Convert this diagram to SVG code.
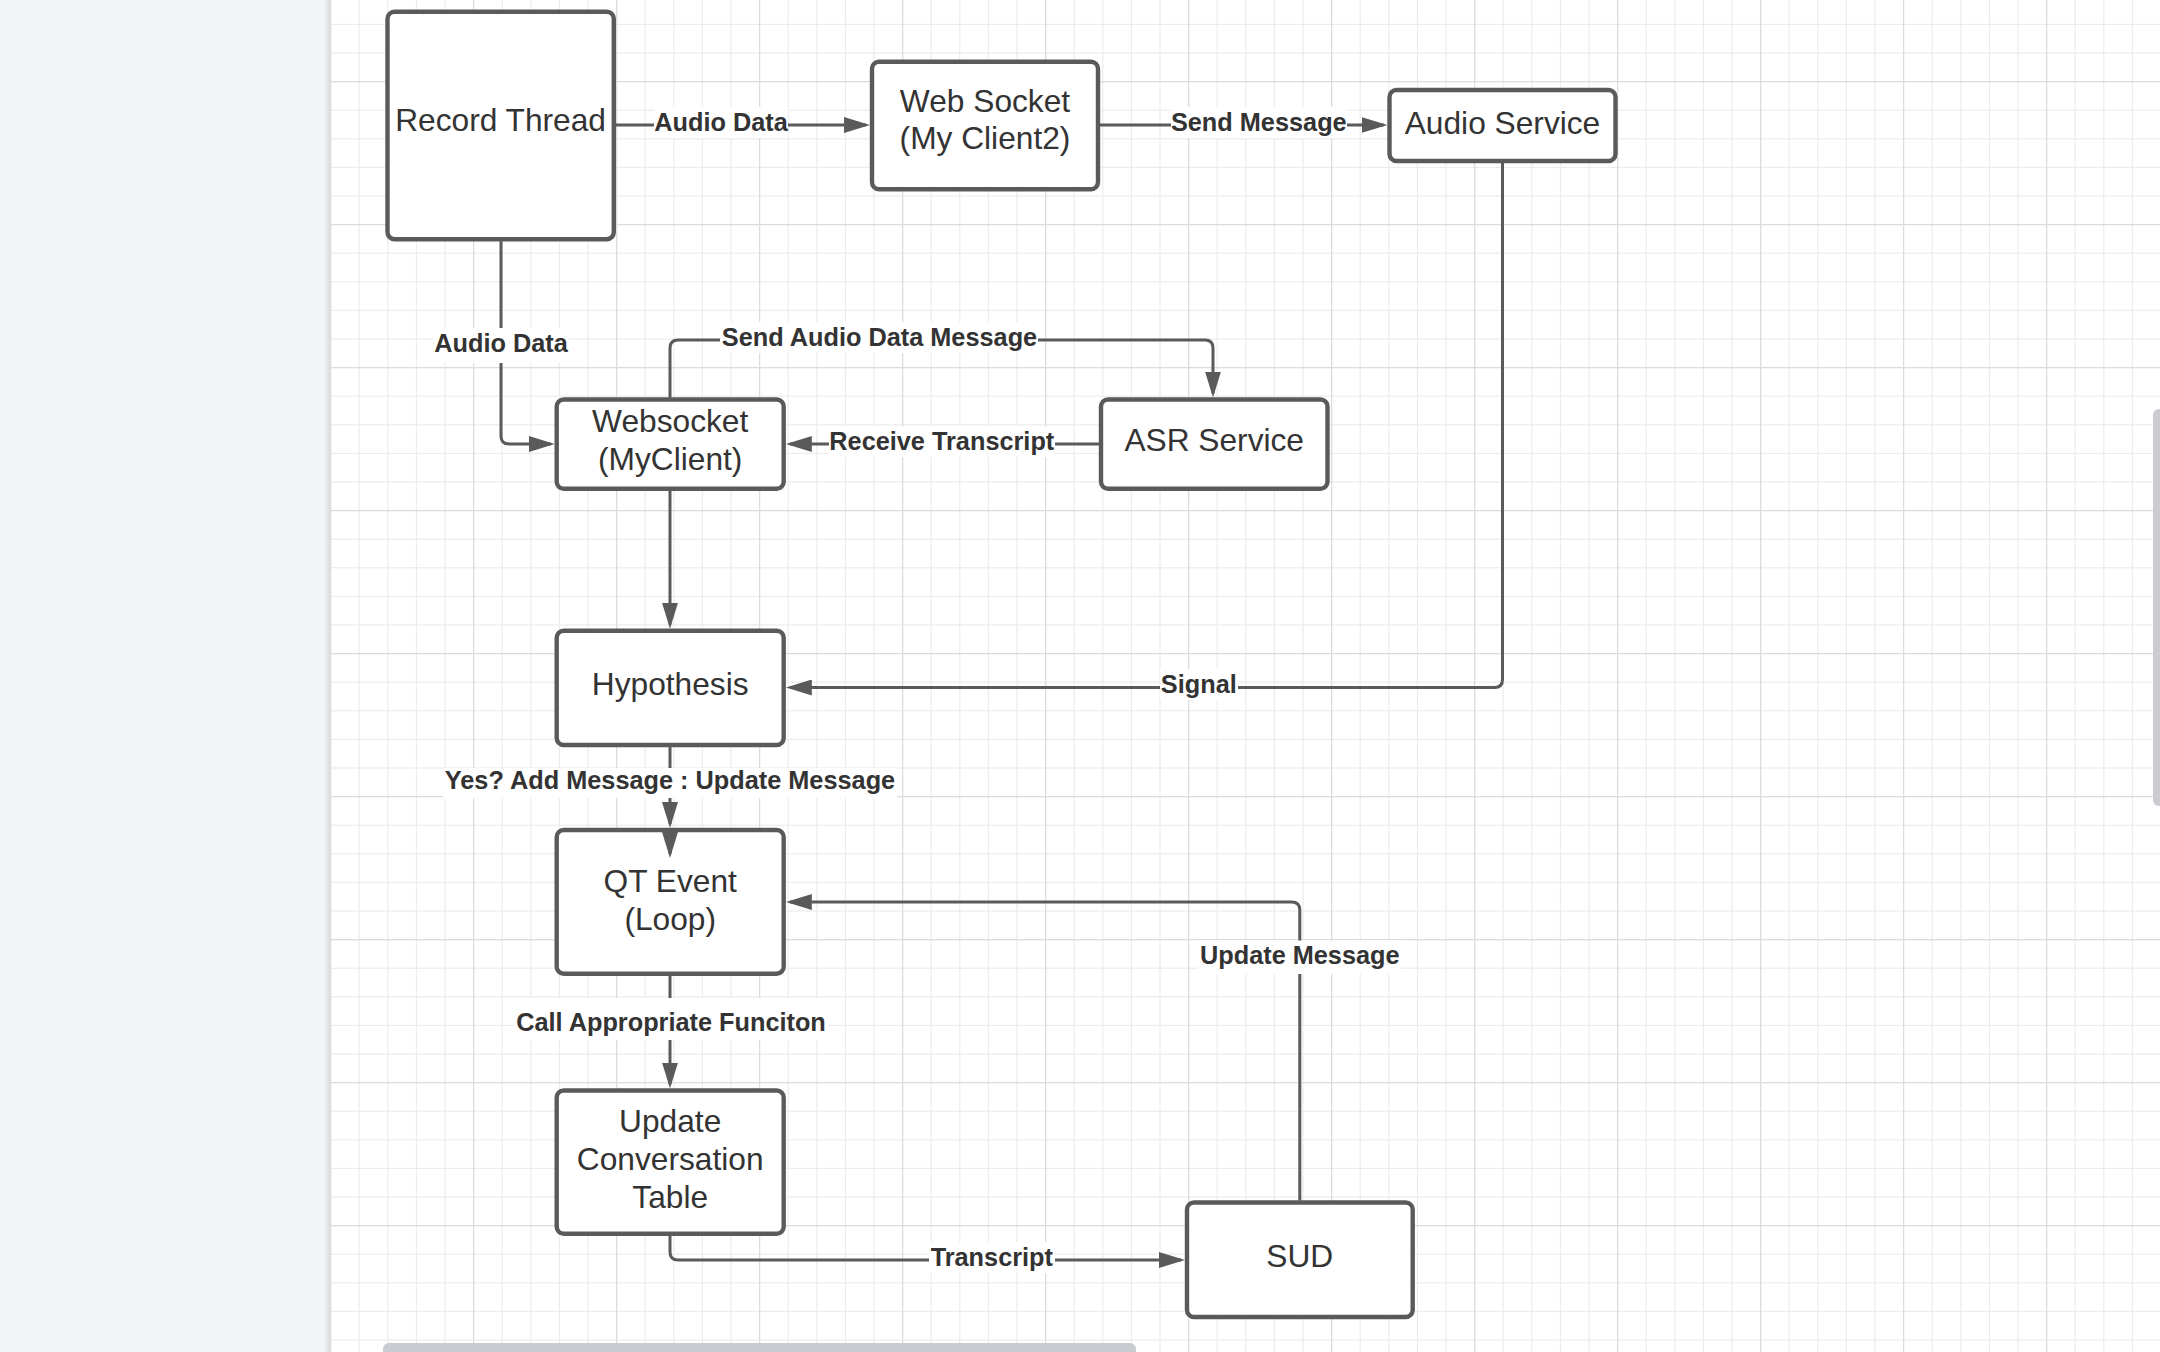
<svg xmlns="http://www.w3.org/2000/svg" width="2160" height="1352" viewBox="0 0 2160 1352">
  <defs>
    <!-- canvas grid: major cell 143px split into 5 minor cells -->
    <pattern id="grid" x="330" y="81" width="143" height="143" patternUnits="userSpaceOnUse">
      <g fill="#ececec">
        <rect x="28.6" y="0" width="1.2" height="143"/>
        <rect x="57.2" y="0" width="1.2" height="143"/>
        <rect x="85.8" y="0" width="1.2" height="143"/>
        <rect x="114.4" y="0" width="1.2" height="143"/>
        <rect x="0" y="28.6" width="143" height="1.2"/>
        <rect x="0" y="57.2" width="143" height="1.2"/>
        <rect x="0" y="85.8" width="143" height="1.2"/>
        <rect x="0" y="114.4" width="143" height="1.2"/>
      </g>
      <g fill="#dcdcdc">
        <rect x="0" y="0" width="1.3" height="143"/>
        <rect x="0" y="0" width="143" height="1.3"/>
      </g>
    </pattern>
    <linearGradient id="panelEdge" x1="0" y1="0" x2="1" y2="0">
      <stop offset="0" stop-color="#f2f3f5"/>
      <stop offset="1" stop-color="#dadce0"/>
    </linearGradient>
    <marker id="arrow" markerUnits="userSpaceOnUse" markerWidth="26" markerHeight="16" refX="22" refY="8" orient="auto">
      <path d="M0,0 L26,8 L0,16 z" fill="#5a5a5a"/>
    </marker>
    <style>
      .node rect { fill: #ffffff; stroke: #5a5a5a; stroke-width: 4.4; }
      .node text { font-family: "Liberation Sans", Arial, sans-serif; font-size: 31.7px; fill: #333333; text-anchor: middle; }
      .edge { fill: none; stroke: #5a5a5a; stroke-width: 3; marker-end: url(#arrow); }
      .lbl-bg { fill: #ffffff; }
      .lbl { font-family: "Liberation Sans", Arial, sans-serif; font-size: 25.3px; font-weight: bold; fill: #333333; text-anchor: middle; }
    </style>
  </defs>

  <!-- canvas -->
  <rect x="0" y="0" width="2160" height="1352" fill="#ffffff"/>
  <rect x="330" y="0" width="1830" height="1352" fill="url(#grid)"/>

  <!-- side panel -->
  <rect x="0" y="0" width="330" height="1352" fill="#f2f3f5"/>
  <rect x="324" y="0" width="6" height="1352" fill="url(#panelEdge)"/>

  <!-- connectors -->
  <g id="connectors">
    <path class="edge" d="M615.8,125 H866"/>
    <path class="edge" d="M1100,125 H1383.5"/>
    <path class="edge" d="M501,241.2 V436 Q501,444 509,444 H550.7"/>
    <path class="edge" d="M670,397.5 V348 Q670,340 678,340 H1205 Q1213,340 1213,348 V393.5"/>
    <path class="edge" d="M1099,444 H789.8"/>
    <path class="edge" d="M670,490.8 V624.7"/>
    <path class="edge" d="M1502.5,163 V679.5 Q1502.5,687.5 1494.5,687.5 H789.8"/>
    <path class="edge" d="M670,746.7 V824"/>
    <path class="edge" d="M670,832 V854"/>
    <path class="edge" d="M670,975.7 V1084.5"/>
    <path class="edge" d="M670,1235.8 V1252 Q670,1260 678,1260 H1181"/>
    <path class="edge" d="M1299.8,1200.5 V910 Q1299.8,902 1291.8,902 H789.8"/>

    <!-- connector labels -->
    <rect class="lbl-bg" x="654" y="107" width="134" height="31"/>
    <text class="lbl" x="721" y="131">Audio Data</text>

    <rect class="lbl-bg" x="1171" y="107" width="176" height="31"/>
    <text class="lbl" x="1258.8" y="131">Send Message</text>

    <rect class="lbl-bg" x="433" y="328" width="136" height="35"/>
    <text class="lbl" x="501" y="352">Audio Data</text>

    <rect class="lbl-bg" x="720" y="322" width="318" height="31"/>
    <text class="lbl" x="879.5" y="346">Send Audio Data Message</text>

    <rect class="lbl-bg" x="829" y="426" width="226" height="31"/>
    <text class="lbl" x="941.8" y="450">Receive Transcript</text>

    <rect class="lbl-bg" x="1160" y="669" width="78" height="31"/>
    <text class="lbl" x="1198.8" y="693">Signal</text>

    <rect class="lbl-bg" x="443" y="768" width="454" height="30"/>
    <text class="lbl" x="670" y="789">Yes? Add Message : Update Message</text>

    <rect class="lbl-bg" x="514" y="998" width="314" height="42"/>
    <text class="lbl" x="671" y="1031">Call Appropriate Funciton</text>

    <rect class="lbl-bg" x="1198" y="940.5" width="203" height="33.5"/>
    <text class="lbl" x="1299.8" y="964">Update Message</text>

    <rect class="lbl-bg" x="929" y="1242" width="126" height="31"/>
    <text class="lbl" x="991.8" y="1266">Transcript</text>
  </g>

  <!-- nodes -->
  <g id="record-thread" class="node">
    <rect x="387.5" y="11.7" width="226.3" height="227.5" rx="7"/>
    <text x="500.6" y="131">Record Thread</text>
  </g>
  <g id="web-socket-client2" class="node">
    <rect x="872" y="61.7" width="226" height="127.6" rx="7"/>
    <text x="985" y="112">Web Socket</text>
    <text x="985" y="149">(My Client2)</text>
  </g>
  <g id="audio-service" class="node">
    <rect x="1389.5" y="90" width="226" height="71" rx="7"/>
    <text x="1502.5" y="133.5">Audio Service</text>
  </g>
  <g id="websocket-myclient" class="node">
    <rect x="556.7" y="399.5" width="227" height="89.3" rx="7"/>
    <text x="670.2" y="432">Websocket</text>
    <text x="670.2" y="470">(MyClient)</text>
  </g>
  <g id="asr-service" class="node">
    <rect x="1101" y="399.5" width="226.5" height="89.3" rx="7"/>
    <text x="1214.2" y="451">ASR Service</text>
  </g>
  <g id="hypothesis" class="node">
    <rect x="556.7" y="630.7" width="227" height="114.3" rx="7"/>
    <text x="670.2" y="694.5">Hypothesis</text>
  </g>
  <g id="qt-event" class="node">
    <rect x="556.7" y="830" width="227" height="143.7" rx="7"/>
    <text x="670.2" y="892">QT Event</text>
    <text x="670.2" y="930">(Loop)</text>
  </g>
  <g id="update-conversation-table" class="node">
    <rect x="556.7" y="1090.5" width="227" height="143.3" rx="7"/>
    <text x="670.2" y="1132">Update</text>
    <text x="670.2" y="1170">Conversation</text>
    <text x="670.2" y="1208">Table</text>
  </g>
  <g id="sud" class="node">
    <rect x="1187" y="1202.5" width="225.7" height="114.5" rx="7"/>
    <text x="1299.8" y="1266.5">SUD</text>
  </g>

  <!-- second arrowhead into QT Event sits above the box fill -->
  <path d="M670,832 V854" fill="none" stroke="#5a5a5a" stroke-width="3" marker-end="url(#arrow)"/>

  <!-- scrollbars -->
  <rect x="383" y="1343" width="753" height="16" rx="6" fill="#caccd1"/>
  <rect x="2153" y="409" width="16" height="397" rx="6" fill="#caccd1"/>
</svg>
